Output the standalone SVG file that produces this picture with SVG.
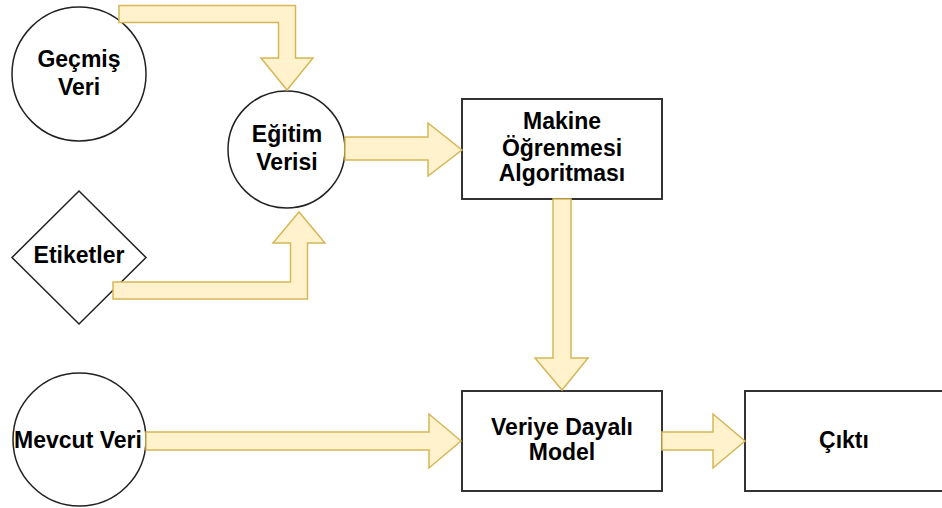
<svg xmlns="http://www.w3.org/2000/svg" width="942" height="508" viewBox="0 0 942 508">
<style>
.node{fill:#ffffff;stroke:#222222;stroke-width:1.5}
.box{fill:#ffffff;stroke:#333333;stroke-width:2}
.arr{fill:#fff2cc;stroke:#d6b656;stroke-width:1.5;stroke-linejoin:miter}
.t{font-family:"Liberation Sans",Arial,sans-serif;font-weight:bold;font-size:23px;fill:#000000;text-anchor:middle}
</style>
<rect x="0" y="0" width="942" height="508" fill="#ffffff"/>
<g id="gecmis-veri">
<circle class="node" cx="79" cy="74" r="67"/>
<text class="t" x="79" y="67">Geçmiş</text>
<text class="t" x="79" y="95">Veri</text>
</g>
<g id="egitim-verisi">
<circle class="node" cx="286.5" cy="149.5" r="58.5"/>
<text class="t" x="287" y="142">Eğitim</text>
<text class="t" x="287" y="170">Verisi</text>
</g>
<g id="etiketler">
<polygon class="node" points="79,191 146,257.5 79,324 12,257.5"/>
<text class="t" x="79" y="263">Etiketler</text>
</g>
<g id="makine">
<rect class="box" x="462" y="99" width="200" height="100"/>
<text class="t" x="562" y="129">Makine</text>
<text class="t" x="562" y="155.5">Öğrenmesi</text>
<text class="t" x="562" y="181">Algoritması</text>
</g>
<g id="mevcut-veri">
<circle class="node" cx="79.5" cy="439.5" r="66.5"/>
<text class="t" x="78" y="448">Mevcut Veri</text>
</g>
<g id="model">
<rect class="box" x="462" y="391" width="200" height="100"/>
<text class="t" x="562" y="435">Veriye Dayalı</text>
<text class="t" x="562" y="460">Model</text>
</g>
<g id="cikti">
<rect class="box" x="745" y="391" width="200" height="100"/>
<text class="t" x="844" y="448">Çıktı</text>
</g>
<g id="connectors">
<polygon class="arr" points="119,5.5 295.5,5.5 295.5,58 313,58 287,90 261,58 278.5,58 278.5,22.5 119,22.5"/>
<polygon class="arr" points="113,282 290.5,282 290.5,243 273,243 299,212 325,243 307.5,243 307.5,299 113,299"/>
<polygon class="arr" points="345,137 428,137 428,123 462,150 428,176 428,160 345,160"/>
<polygon class="arr" points="553,199 571,199 571,358 588,358 562,390 535,358 553,358"/>
<polygon class="arr" points="146,432 429,432 429,414 461,441 429,468 429,450 146,450"/>
<polygon class="arr" points="662,432 713,432 713,414 745,441 713,468 713,450 662,450"/>
</g>
</svg>
